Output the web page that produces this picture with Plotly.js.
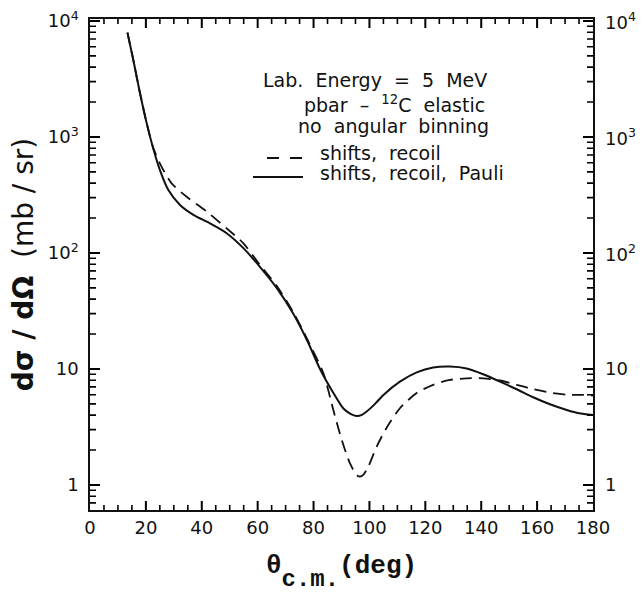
<!DOCTYPE html>
<html>
<head>
<meta charset="utf-8">
<script src="https://cdn.plot.ly/plotly-3.0.1.min.js"></script>
<style>html,body{margin:0;padding:0;background:#fff;}#chart{width:643px;height:594px;}</style>
</head>
<body>
<div id="chart"></div>
<script>
// scattering angle (deg) and cross sections (mb/sr)
const thetaPauli = [13.4, 15.5, 17.9, 20.3, 22.6, 25.0, 28.0, 32.2, 37.0, 42.9, 48.9, 54.9, 60.8, 66.8, 72.7, 78.0, 82.3, 87.1, 90.6, 93.2, 95.4, 97.3, 99.0, 102.0, 105.0, 110.9, 116.9, 122.8, 128.8, 134.8, 140.7, 146.7, 152.7, 158.6, 164.6, 170.6, 175.0, 180.0];
const sigmaPauli = [7940, 4610, 2380, 1310, 800, 520, 350, 259, 213, 180, 148, 110, 76, 50, 30, 17, 10.0, 6.2, 4.58, 4.1, 3.93, 4.02, 4.29, 5.0, 5.97, 7.77, 9.35, 10.3, 10.5, 10.1, 9.0, 7.77, 6.68, 5.7, 4.96, 4.43, 4.15, 4.0];

const thetaRecoil = [13.4, 15.5, 17.9, 20.3, 22.6, 25.5, 29.2, 34.6, 41.8, 48.9, 54.9, 60.8, 66.8, 72.7, 78.0, 83.5, 87.1, 90.1, 93.0, 95.4, 96.6, 97.8, 99.6, 102.6, 106.1, 110.9, 116.9, 122.8, 128.8, 134.8, 140.7, 146.7, 152.7, 158.6, 164.6, 170.6, 176.5, 180.0];
const sigmaRecoil = [7940, 4610, 2380, 1310, 810, 560, 398, 305, 227, 163, 121, 79, 52, 31, 17.5, 9.2, 4.4, 2.44, 1.54, 1.22, 1.18, 1.22, 1.44, 2.14, 3.1, 4.58, 6.2, 7.3, 8.04, 8.3, 8.3, 7.95, 7.3, 6.7, 6.25, 6.0, 5.97, 5.9];

const seriesNames = ["shifts, recoil", "shifts, recoil, Pauli"];
const yTickVals = [1, 10, 100, 1000, 10000];
const yTickLabels = ["1", "10", "10<sup>2</sup>", "10<sup>3</sup>", "10<sup>4</sup>"];

const tickFont = {family: "DejaVu Sans", size: 18, color: "#111"};
const textFont = {family: "DejaVu Sans", size: 19, color: "#111"};

const traces = [
  {x: thetaRecoil, y: sigmaRecoil, name: seriesNames[0], type: "scatter", mode: "lines",
   line: {color: "#111", width: 1.8, dash: "12px,7px", shape: "spline", smoothing: 0.7}, showlegend: false},
  {x: thetaPauli, y: sigmaPauli, name: seriesNames[1], type: "scatter", mode: "lines",
   line: {color: "#111", width: 2, shape: "spline", smoothing: 0.7}, showlegend: false}
];

const yRange = [Math.log10(0.608), 4.017];

// right-hand tick labels, placed at the tick values on the y scale
const rightLabels = yTickVals.map((v, i) => ({
  xref: "paper", yref: "y", x: 1.0, y: Math.log10(v), text: yTickLabels[i], showarrow: false,
  xanchor: "left", yanchor: "middle", xshift: 10, font: tickFont
}));

const layout = {
  width: 643, height: 594,
  margin: {l: 90, r: 50, t: 19, b: 84},
  showlegend: false,
  xaxis: {
    range: [0, 180], dtick: 20, ticks: "inside", ticklen: 9, tickwidth: 2, tickcolor: "#000", layer: "above traces",
    minor: {dtick: 5, ticks: "inside", ticklen: 5, tickwidth: 1.6, tickcolor: "#000"},
    showline: true, linewidth: 2, linecolor: "#111", mirror: "allticks", showgrid: false, zeroline: false,
    tickfont: tickFont,
    title: {text: "<b>θ</b><sub><span style=\"font-size:24px;baseline-shift:-8px\"><b>c.m.</b></span></sub><b>(deg)</b>", font: {family: "Liberation Mono", size: 26, color: "#111"}, standoff: 18}
  },
  yaxis: {
    type: "log", range: yRange, tickvals: yTickVals, ticktext: yTickLabels.map(t => t + "\u00a0"),
    ticks: "inside", ticklen: 10, tickwidth: 2, tickcolor: "#000", layer: "above traces",
    minor: {dtick: "D1", ticks: "inside", ticklen: 6, tickwidth: 1.6, tickcolor: "#000"},
    showline: true, linewidth: 2, linecolor: "#111", mirror: "allticks", showgrid: false, zeroline: false,
    tickfont: tickFont,
    title: {text: "<b>dσ\u00a0/\u00a0dΩ</b>\u00a0\u00a0(mb\u00a0/\u00a0sr)", font: {family: "DejaVu Sans", size: 28, color: "#111"}, standoff: 6}
  },
  shapes: [
    {type: "line", xref: "paper", yref: "paper", x0: 0.3519, x1: 0.4215, y0: 0.7169, y1: 0.7169,
     line: {color: "#111", width: 1.8, dash: "12px,11px"}},
    {type: "line", xref: "paper", yref: "paper", x0: 0.3240, x1: 0.4235, y0: 0.6782, y1: 0.6782,
     line: {color: "#111", width: 2}}
  ],
  annotations: [
    {xref: "paper", yref: "paper", x: 0.5666, y: 0.8757, text: "Lab.\u00a0 Energy\u00a0 =\u00a0 5\u00a0 MeV", showarrow: false, font: textFont, xanchor: "center", yanchor: "middle"},
    {xref: "paper", yref: "paper", x: 0.6044, y: 0.826, text: "pbar\u00a0 –\u00a0 <sup>12</sup>C\u00a0 elastic", showarrow: false, font: textFont, xanchor: "center", yanchor: "middle"},
    {xref: "paper", yref: "paper", x: 0.6024, y: 0.7811, text: "no\u00a0 angular\u00a0 binning", showarrow: false, font: textFont, xanchor: "center", yanchor: "middle"},
    {xref: "paper", yref: "paper", x: 0.4533, y: 0.7271, text: seriesNames[0].replace(" ", "\u00a0 "), showarrow: false, font: textFont, xanchor: "left", yanchor: "middle"},
    {xref: "paper", yref: "paper", x: 0.4533, y: 0.6864, text: seriesNames[1].replace(/ /g, "\u00a0 "), showarrow: false, font: textFont, xanchor: "left", yanchor: "middle"}
  ].concat(rightLabels)
};

Plotly.newPlot("chart", traces, layout, {staticPlot: true, displayModeBar: false}).then(() => {
  // lift Plotly's own tick paths to the top of the main svg so nothing covers them
  const svg = document.querySelector("#chart .main-svg");
  const top = document.createElementNS("http://www.w3.org/2000/svg", "g");
  top.setAttribute("class", "tick-lift");
  document.querySelectorAll("#chart path.xtick, #chart path.ytick").forEach(p => {
    p.style.shapeRendering = "auto";
    p.setAttribute("stroke", "#000");
    top.appendChild(p);
  });
  svg.appendChild(top);
});
</script>
</body>
</html>
